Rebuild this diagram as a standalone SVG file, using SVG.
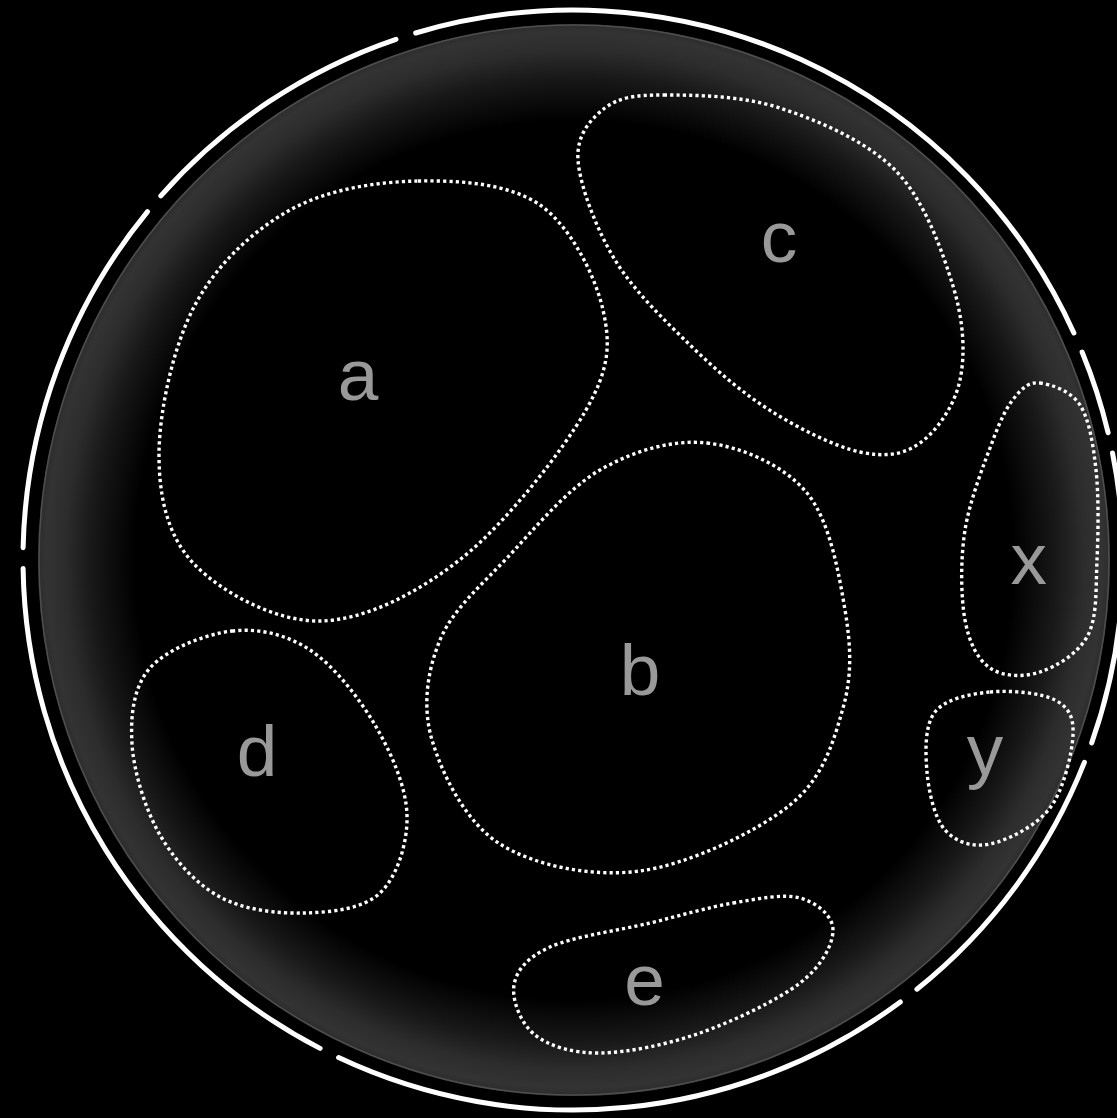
<svg xmlns="http://www.w3.org/2000/svg" width="1117" height="1118" viewBox="0 0 1117 1118">
  <defs>
    <radialGradient id="glow" cx="574" cy="560" r="536" gradientUnits="userSpaceOnUse">
      <stop offset="0" stop-color="#000"/>
      <stop offset="0.82" stop-color="#000"/>
      <stop offset="0.9" stop-color="#181818"/>
      <stop offset="0.95" stop-color="#2c2c2c"/>
      <stop offset="0.985" stop-color="#333"/>
      <stop offset="1" stop-color="#2c2c2c"/>
    </radialGradient>
    <style>
      .ring { fill: none; stroke: #fff; stroke-width: 5; stroke-linecap: round; }
      .blob { fill: none; stroke: #fff; stroke-width: 3.4; stroke-dasharray: 3.2 3.1; }
      .label { fill: #999; font-family: "Liberation Sans", Arial, Helvetica, sans-serif; font-size: 73px; text-anchor: middle; }
    </style>
  </defs>
  <rect x="0" y="0" width="1117" height="1118" fill="#000"/>
  <g id="frame">
    <circle cx="574" cy="560" r="536" fill="url(#glow)"/>
    <circle cx="574" cy="560" r="535" fill="none" stroke="#4e4e4e" stroke-width="1.5"/>
    <path class="ring" d="M160.8,195.8 A550,550 0 0 1 396.0,39.3"/>
    <path class="ring" d="M415.7,33.0 A550,550 0 0 1 1073.9,333.0"/>
    <path class="ring" d="M1082.1,352.0 A550,550 0 0 1 1108.1,432.7"/>
    <path class="ring" d="M1112.5,453.0 A550,550 0 0 1 1091.7,742.9"/>
    <path class="ring" d="M1084.4,762.3 A550,550 0 0 1 916.9,989.2"/>
    <path class="ring" d="M900.3,1002.0 A550,550 0 0 1 338.6,1057.6"/>
    <path class="ring" d="M320.1,1048.4 A550,550 0 0 1 23.1,568.4"/>
    <path class="ring" d="M23.1,547.7 A550,550 0 0 1 147.5,211.6"/>
  </g>
  <g id="node-a">
    <path class="blob" d="M418,181 C459.7,180.2 509.2,183.5 540,205 C570.8,226.5 595.3,275.8 603,310 C610.7,344.2 609.5,368.7 586,410 C562.5,451.3 506.2,522.8 462,558 C417.8,593.2 365.5,619.8 321,621 C276.5,622.2 222,592.7 195,565 C168,537.3 159,498.3 159,455 C159,411.7 173.2,345.8 195,305 C216.8,264.2 252.8,230.7 290,210 C327.2,189.3 376.3,181.8 418,181 Z"/>
    <text class="label" x="358" y="400">a</text>
  </g>
  <g id="node-b">
    <path class="blob" d="M707,443 C741.5,446.8 784,465.2 807,493 C830,520.8 839,574.2 845,610 C851,645.8 852.2,675.5 843,708 C833.8,740.5 823.8,777.8 790,805 C756.2,832.2 688.3,864.5 640,871 C591.7,877.5 534.7,865.8 500,844 C465.3,822.2 442,774 432,740 C422,706 427.5,670.3 440,640 C452.5,609.7 480.3,586.3 507,558 C533.7,529.7 566.7,489.2 600,470 C633.3,450.8 672.5,439.2 707,443 Z"/>
    <text class="label" x="640" y="695">b</text>
  </g>
  <g id="node-c">
    <path class="blob" d="M664,95 C693.2,95 741.3,95.3 780,108 C818.7,120.7 867.2,141.3 896,171 C924.8,200.7 942.3,251.2 953,286 C963.7,320.8 965.5,353.8 960,380 C954.5,406.2 936.7,431 920,443 C903.3,455 884.8,457.3 860,452 C835.2,446.7 799.3,428.8 771,411 C742.7,393.2 716,370.2 690,345 C664,319.8 633.7,290.8 615,260 C596.3,229.2 579.7,185.3 578,160 C576.3,134.7 590.7,118.8 605,108 C619.3,97.2 634.8,95 664,95 Z"/>
    <text class="label" x="779" y="262">c</text>
  </g>
  <g id="node-d">
    <path class="blob" d="M232,631 C258.7,628 286.2,634.3 310,650 C333.8,665.7 358.8,697.5 375,725 C391.2,752.5 406.2,787 407,815 C407.8,843 397.2,876.7 380,893 C362.8,909.3 330.7,912.3 304,913 C277.3,913.7 244,910 220,897 C196,884 174.7,860.5 160,835 C145.3,809.5 133.7,771.8 132,744 C130.3,716.2 133.3,686.8 150,668 C166.7,649.2 205.3,634 232,631 Z"/>
    <text class="label" x="257" y="776">d</text>
  </g>
  <g id="node-e">
    <path class="blob" d="M733,903 C758,898.8 783.3,893.5 800,898 C816.7,902.5 833,915.8 833,930 C833,944.2 822.2,965.8 800,983 C777.8,1000.2 733.3,1021.3 700,1033 C666.7,1044.7 627.5,1052.7 600,1053 C572.5,1053.3 549.3,1046.3 535,1035 C520.7,1023.7 511.5,999.7 514,985 C516.5,970.3 527.3,957.3 550,947 C572.7,936.7 619.5,930.3 650,923 C680.5,915.7 708,907.2 733,903 Z"/>
    <text class="label" x="644.5" y="1005">e</text>
  </g>
  <g id="node-x">
    <path class="blob" d="M1040,383 C1050.8,384.3 1070.7,390.5 1080,405 C1089.3,419.5 1093.2,444.2 1096,470 C1098.8,495.8 1098.3,532.5 1097,560 C1095.7,587.5 1097.5,616.3 1088,635 C1078.5,653.7 1056.3,666.5 1040,672 C1023.7,677.5 1002.5,676.7 990,668 C977.5,659.3 969.2,643 965,620 C960.8,597 960.3,560 965,530 C969.7,500 984.7,462.2 993,440 C1001.3,417.8 1007.2,406.5 1015,397 C1022.8,387.5 1029.2,381.7 1040,383 Z"/>
    <text class="label" x="1028.7" y="584">x</text>
  </g>
  <g id="node-y">
    <path class="blob" d="M990,692 C1010,690 1041.2,692.8 1055,700 C1068.8,707.2 1073.8,717 1073,735 C1072.2,753 1063.8,789.8 1050,808 C1036.2,826.2 1007.5,840.3 990,844 C972.5,847.7 955.5,842 945,830 C934.5,818 928.7,791.7 927,772 C925.3,752.3 924.5,725.3 935,712 C945.5,698.7 970,694 990,692 Z"/>
    <text class="label" x="985" y="775">y</text>
  </g>
  <g id="connectors"/>
</svg>
